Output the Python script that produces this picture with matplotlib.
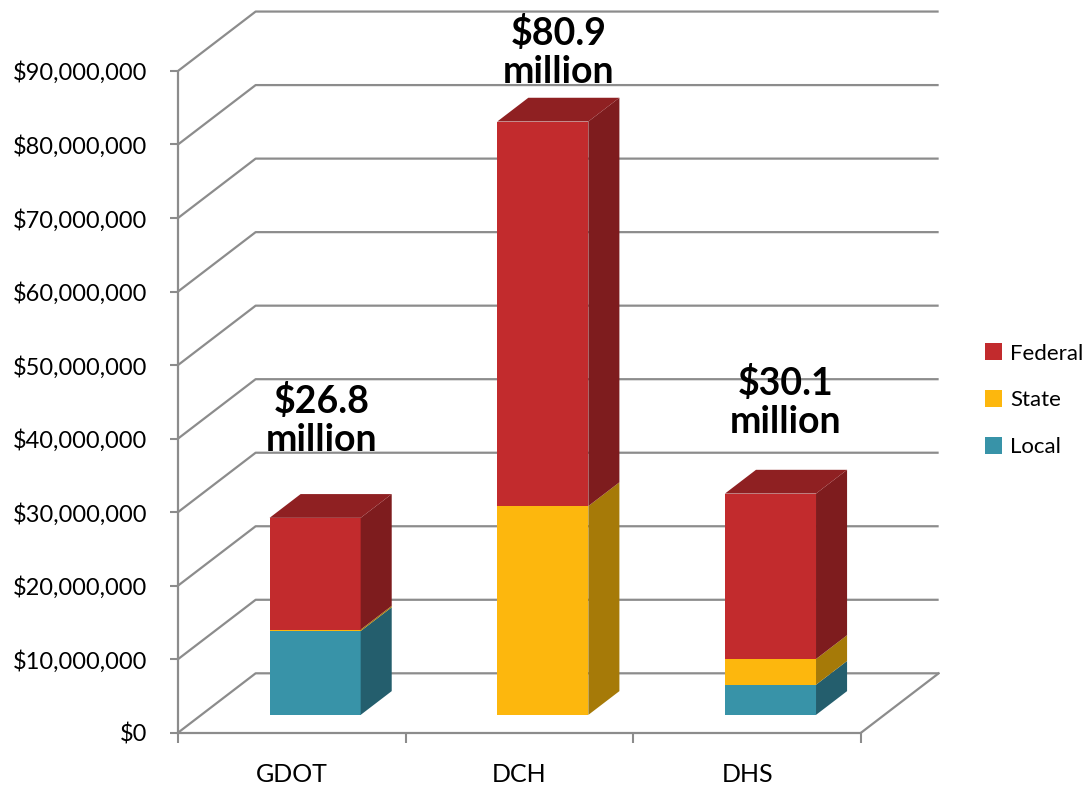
import matplotlib
matplotlib.use('Agg')
import matplotlib.pyplot as plt
from matplotlib.patches import Polygon, Patch
import numpy as np

plt.rcParams['font.family'] = ['Lato', 'DejaVu Sans']
plt.rcParams['text.parse_math'] = False

# data (dollars)
agencies = ['GDOT', 'DCH', 'DHS']
local = [11.4e6, 0.0, 4.1e6]
state = [0.2e6, 28.4e6, 3.5e6]
federal = [15.2e6, 52.3e6, 22.5e6]
totals = ['$26.8\nmillion', '$80.9\nmillion', '$30.1\nmillion']
label_y = [42.5e6, 92.6e6, 45.0e6]
label_dx = [-0.04, 0.0, 0.0]

series = [('Local', local, '#3893A8', '#245E6D', '#2B7585'),
          ('State', state, '#FDB70D', '#A67A08', '#C99208'),
          ('Federal', federal, '#C22B2D', '#7E1C1E', '#8F2022')]

# fake 3d: oblique depth offset for the whole floor
DX = 0.341      # in category units
DY = 8.08e6     # in dollars
grid_c = '#8C8C8C'

fig = plt.figure(figsize=(10.88, 7.85), dpi=100)
ax = fig.add_axes([0.1636, 0.0666, 0.7004, 0.9273])
ax.set_xlim(-0.5, 2.847)
ax.set_ylim(0, 99e6)

yt = np.arange(0, 90e6 + 1, 10e6)
# walls
for v in yt:
    ax.plot([-0.5, -0.5 + DX, 2.5 + DX], [v, v + DY, v + DY], color=grid_c, lw=1.6, zorder=1,
            solid_capstyle='butt')
ax.plot([2.5, 2.5 + DX], [0, DY], color=grid_c, lw=1.6, zorder=1)

# bars
x = np.arange(len(agencies))
w = 0.4
d0, d1 = 0.3, 0.7
bottom = np.zeros(len(agencies))
for name, vals, c_front, c_side, c_top in series:
    vals = np.array(vals)
    xs = x + d0 * DX
    ax.bar(xs, vals, width=w, bottom=bottom + d0 * DY, color=c_front, zorder=3, linewidth=0)
    for i in range(len(agencies)):
        if vals[i] <= 0:
            continue
        xr = xs[i] + w / 2
        y0 = bottom[i] + d0 * DY
        y1 = y0 + vals[i]
        ddx = (d1 - d0) * DX
        ddy = (d1 - d0) * DY
        ax.add_patch(Polygon([(xr, y0), (xr + ddx, y0 + ddy), (xr + ddx, y1 + ddy), (xr, y1)],
                             closed=True, facecolor=c_side, edgecolor='none', zorder=3))
    bottom = bottom + vals

# top faces
top_c = series[-1][4]
for i in range(len(agencies)):
    xl = x[i] + d0 * DX - w / 2
    xr = xl + w
    yt_ = bottom[i] + d0 * DY
    ddx = (d1 - d0) * DX
    ddy = (d1 - d0) * DY
    ax.add_patch(Polygon([(xl, yt_), (xl + ddx, yt_ + ddy), (xr + ddx, yt_ + ddy), (xr, yt_)],
                         closed=True, facecolor=top_c, edgecolor='none', zorder=4))
    ax.text(x[i] + 0.5 * DX + label_dx[i], label_y[i], totals[i], ha='center', va='center',
            fontsize=27, fontweight='bold', linespacing=1.15, zorder=5)

# axes
for s in ['top', 'right']:
    ax.spines[s].set_visible(False)
ax.spines['left'].set_bounds(0, 90e6)
ax.spines['bottom'].set_bounds(-0.5, 2.5)
for s in ['left', 'bottom']:
    ax.spines[s].set_color(grid_c)
    ax.spines[s].set_linewidth(1.6)
ax.set_yticks(yt)
ax.set_yticklabels(['${:,.0f}'.format(v) for v in yt])
ax.tick_params(axis='y', length=6, width=1.5, color=grid_c, labelsize=17, pad=16)
ax.set_xticks([-0.5, 0.5, 1.5, 2.5])
ax.set_xticklabels([])
ax.tick_params(axis='x', which='major', length=7, width=1.5, color=grid_c)
ax.set_xticks(x, minor=True)
ax.set_xticklabels(agencies, minor=True)
ax.tick_params(axis='x', which='minor', length=0, labelsize=18, pad=22)

handles = [Patch(facecolor=s[2]) for s in series[::-1]]
fig.legend(handles, [s[0] for s in series[::-1]], loc='center left',
           bbox_to_anchor=(0.905, 0.49), frameon=False, fontsize=16,
           handlelength=0.8, handleheight=0.8, handletextpad=0.35, labelspacing=1.2,
           borderpad=0, borderaxespad=0)

plt.savefig('out.png', dpi=100)
